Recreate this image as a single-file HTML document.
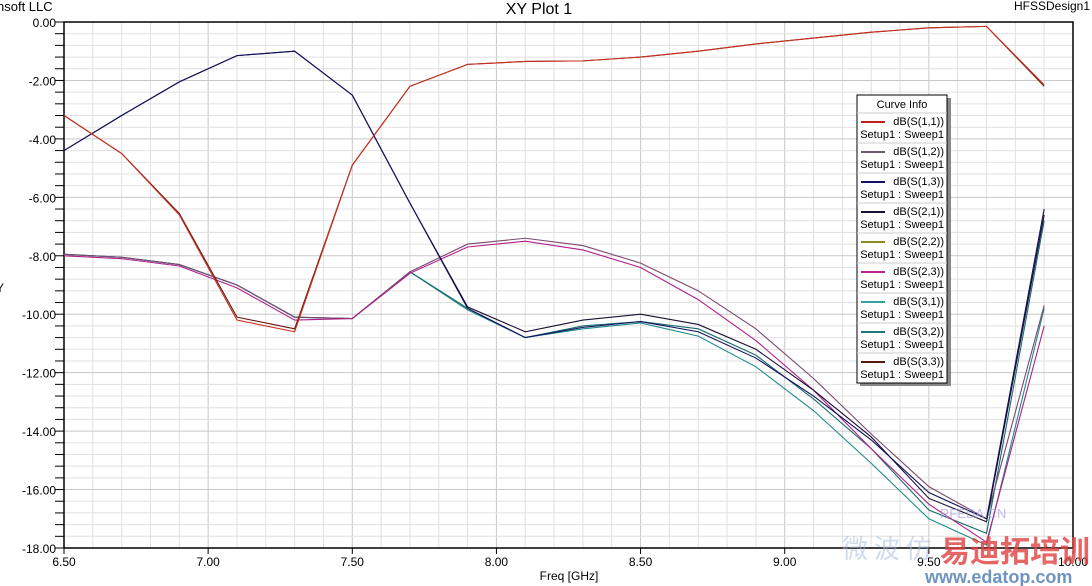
<!DOCTYPE html>
<html><head><meta charset="utf-8"><style>
html,body{margin:0;padding:0;background:#fff;}
svg{display:block;font-family:"Liberation Sans",sans-serif;}
</style></head><body>
<svg id="s" width="1092" height="586" xmlns="http://www.w3.org/2000/svg">
<rect width="1092" height="586" fill="#fff"/>
<g id="grid"></g>
<g id="curves" fill="none" stroke-width="1.1"></g>
<text x="-3" y="11" font-size="13">nsoft LLC</text>
<text x="539" y="14" font-size="16" text-anchor="middle">XY Plot 1</text>
<text x="1090" y="10" font-size="12" text-anchor="end">HFSSDesign1</text>
<text x="569" y="580" font-size="12" text-anchor="middle">Freq [GHz]</text>
<text x="-4" y="292" font-size="12">Y</text>
<g id="legend"></g>
<text x="842" y="558" font-size="26" fill="#a0b8d8" opacity="0.5" font-family="'Noto Sans CJK SC',sans-serif">微 波 仿</text>
<text x="940" y="518" font-size="13" fill="#a8a0e0" opacity="0.7">RFEDA.CN</text>
<text x="940" y="562" font-size="30" font-weight="bold" fill="#e04040" opacity="0.8" font-family="'Noto Sans CJK SC',sans-serif">易迪拓培训</text>
<text x="925" y="583" font-size="18" font-weight="bold" fill="#4a7ab0" opacity="0.8">www.edatop.com</text>
</svg>
<script>
const NS="http://www.w3.org/2000/svg";
const L=64,R=1073,T=22,B=548;
const X=f=>L+(f-6.5)*(R-L)/3.5, Y=v=>T+(-v)*(B-T)/18;
function el(p,tag,a,txt){const e=document.createElementNS(NS,tag);for(const k in a)e.setAttribute(k,a[k]);if(txt!==undefined)e.textContent=txt;p.appendChild(e);return e;}
const g=document.getElementById('grid');
for(let i=0;i<=35;i++){const x=X(6.5+i*0.1);el(g,'line',{x1:x,x2:x,y1:T,y2:B,stroke:i%5==0?'#c8c8c8':'#e0e0e0'});}
for(let i=0;i<=45;i++){const y=Y(-i*0.4);el(g,'line',{x1:L,x2:R,y1:y,y2:y,stroke:i%5==0?'#c8c8c8':'#e0e0e0'});
 el(g,'line',{x1:L-9,x2:L,y1:y,y2:y,stroke:'#000'});}
for(let i=0;i<=7;i++){const x=X(6.5+i*0.5);el(g,'line',{x1:x,x2:x,y1:B,y2:B+6,stroke:'#000'});
 el(g,'text',{x:x,y:B+18,'font-size':12,'text-anchor':'middle'},(6.5+i*0.5).toFixed(2));}
for(let i=0;i<=9;i++){el(g,'text',{x:56,y:Y(-i*2)+5,'font-size':12,'text-anchor':'end'},(-i*2).toFixed(2).replace('-0.00','0.00'));}
el(g,'rect',{x:L,y:T,width:R-L,height:B-T,fill:'none',stroke:'#000','stroke-width':1.5});
const F=[6.5,6.7,6.9,7.1,7.3,7.5,7.7,7.9,8.1,8.3,8.5,8.7,8.9,9.1,9.3,9.5,9.7,9.9];
const red=[-3.2,-4.5,-6.6,-10.2,-10.6,-4.9,-2.2,-1.45,-1.35,-1.33,-1.2,-1.0,-0.75,-0.55,-0.35,-0.2,-0.15,-2.15];
const red2=[-3.2,-4.5,-6.55,-10.1,-10.5,-4.9,-2.2,-1.45,-1.35,-1.33,-1.2,-1.0,-0.75,-0.55,-0.35,-0.2,-0.15,-2.2];
const blue=[-4.4,-3.2,-2.05,-1.15,-1.0,-2.5,-6.2,-9.8,-10.8,-10.45,-10.25,-10.6,-11.5,-12.8,-14.3,-16.1,-17.0,-6.4];
const blue2=[-4.4,-3.2,-2.05,-1.15,-1.0,-2.5,-6.2,-9.75,-10.6,-10.2,-10.0,-10.35,-11.2,-12.6,-14.2,-16.3,-17.1,-6.6];
const pur=[-7.95,-8.05,-8.3,-9.0,-10.1,-10.15,-8.55,-7.6,-7.4,-7.65,-8.25,-9.2,-10.5,-12.2,-14.1,-15.9,-17.0,-9.7];
const pur2=[-8.0,-8.1,-8.35,-9.1,-10.2,-10.15,-8.6,-7.7,-7.5,-7.8,-8.4,-9.5,-10.9,-12.6,-14.6,-16.5,-17.8,-10.4];
const cy=[-7.95,-8.05,-8.3,-9.0,-10.1,-10.15,-8.55,-9.85,-10.8,-10.5,-10.3,-10.75,-11.8,-13.3,-15.1,-17.0,-17.9,-9.8];
const cy2=[-7.95,-8.05,-8.3,-9.0,-10.1,-10.15,-8.55,-9.8,-10.8,-10.4,-10.25,-10.5,-11.4,-12.9,-14.6,-16.7,-17.5,-6.8];
const series=[[cy,'#208a8a'],[cy2,'#1a6a6a'],[pur,'#7a4a70'],[pur2,'#b0208a'],[blue2,'#1a1030'],[blue,'#101060'],[red2,'#6a1a10'],[red,'#c83020']];
const c=document.getElementById('curves');
series.forEach(([d,col])=>{el(c,'polyline',{points:d.map((v,i)=>X(F[i])+','+Y(v)).join(' '),stroke:col});});
const lg=document.getElementById('legend');
el(lg,'rect',{x:860,y:98,width:91,height:288,fill:'#888'});
el(lg,'rect',{x:857,y:95,width:90,height:288,fill:'#fff',stroke:'#000'});
el(lg,'text',{x:902,y:108,'font-size':11,'text-anchor':'middle'},'Curve Info');
const names=['1,1','1,2','1,3','2,1','2,2','2,3','3,1','3,2','3,3'];
const cols=['#c02018','#6a5a6a','#101060','#1a1030','#8a8a20','#c0208a','#30a0a0','#1a7a7a','#5a1a10'];
names.forEach((n,i)=>{const y=113+i*30;
 el(lg,'line',{x1:857,x2:947,y1:y,y2:y,stroke:'#ccc'});
 el(lg,'line',{x1:861,x2:885,y1:y+9,y2:y+9,stroke:cols[i],'stroke-width':2});
 el(lg,'text',{x:944,y:y+12,'font-size':11,'text-anchor':'end'},'dB(S('+n+'))');
 el(lg,'text',{x:944,y:y+25,'font-size':11,'text-anchor':'end'},'Setup1 : Sweep1');});
</script>
</body></html>
